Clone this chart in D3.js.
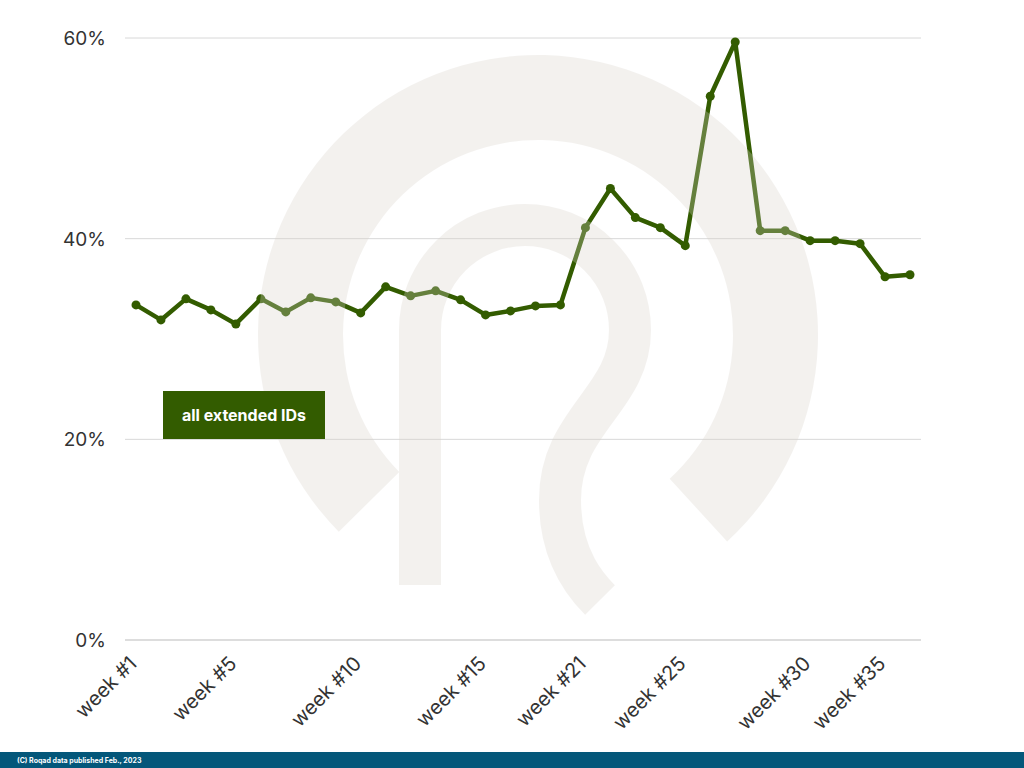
<!DOCTYPE html>
<html><head><meta charset="utf-8">
<script src="https://cdn.jsdelivr.net/npm/d3@7"></script>
<style>body{margin:0;background:#fff;font-family:Inter,"Noto Sans",sans-serif}</style>
</head><body>
<svg id="chart" width="1024" height="768"></svg>
<script>
const weeks = [1,2,3,4,5,6,7,8,9,10,11,12,13,14,15,16,17,18,21,22,23,24,25,26,27,28,29,30,31,33,35,36];
const values = [33.4,31.9,34.0,32.9,31.5,34.0,32.7,34.1,33.7,32.6,35.2,34.3,34.8,33.9,32.4,32.8,33.3,33.4,
  41.1,45.0,42.1,41.1,39.3,54.2,59.6,40.8,40.8,39.8,39.8,39.5,36.2,36.4];
const tickWeeks = [1,5,10,15,21,25,30,35];
const yTicks = [0,20,40,60];

const svg = d3.select('#chart');
const green = '#335c00';

const x = d3.scalePoint().domain(weeks.map(w => 'week #' + w)).range([136, 910]);
const y = d3.scaleLinear().domain([0, 60]).range([640, 38]);

// gridlines + y labels
svg.append('g').selectAll('line').data(yTicks).join('line')
  .attr('x1', 125).attr('x2', 921)
  .attr('y1', d => y(d)).attr('y2', d => y(d))
  .attr('stroke', d => d === 0 ? '#bbb' : '#d8d8d8').attr('stroke-width', 1);
svg.append('g').selectAll('text').data(yTicks).join('text')
  .attr('x', 106).attr('y', d => y(d) + 7).attr('text-anchor', 'end')
  .attr('font-size', 19).attr('fill', '#333').text(d => d + '%');

// x labels
svg.append('g').selectAll('text').data(tickWeeks).join('text')
  .attr('transform', d => `translate(${x('week #' + d) - 8},${655}) rotate(-45)`)
  .attr('text-anchor', 'end').attr('dy', '0.7em')
  .attr('font-size', 20).attr('fill', '#333').text(d => 'week #' + d);

// line
const pts = weeks.map((w, i) => ({ k: 'week #' + w, v: values[i] }));
svg.append('path').datum(pts)
  .attr('d', d3.line().x(d => x(d.k)).y(d => y(d.v)))
  .attr('fill', 'none').attr('stroke', green).attr('stroke-width', 4.5).attr('stroke-linejoin', 'round');
svg.append('g').selectAll('circle').data(pts).join('circle')
  .attr('cx', d => x(d.k)).attr('cy', d => y(d.v)).attr('r', 4.5).attr('fill', green);

// watermark logo overlay
const logo = svg.append('g').attr('fill', '#d9d3ca').attr('stroke', '#d9d3ca').attr('opacity', 0.3);
logo.append('path')
  .attr('transform', 'translate(538,335)')
  .attr('stroke', 'none')
  .attr('d', d3.arc()({ innerRadius: 195, outerRadius: 280, startAngle: -2.35, endAngle: 2.4 }));
logo.append('path')
  .attr('fill', 'none').attr('stroke-width', 42)
  .attr('d', 'M420,585 L420,330 A105,105 0 0 1 630,330 C630,400 560,420 560,500 C560,560 590,590 600,600');

// label box
svg.append('rect').attr('x', 163).attr('y', 391).attr('width', 162).attr('height', 48).attr('fill', green);
svg.append('text').attr('x', 244).attr('y', 421).attr('text-anchor', 'middle')
  .attr('font-size', 16).attr('font-weight', 700).attr('fill', '#fff').text('all extended IDs');

// footer
svg.append('rect').attr('x', 0).attr('y', 752).attr('width', 1024).attr('height', 16).attr('fill', '#04577a');
svg.append('text').attr('x', 17).attr('y', 763).attr('font-size', 7).attr('font-weight', 700)
  .attr('fill', '#fff').text('(C) Roqad data published Feb., 2023');
</script>
</body></html>
